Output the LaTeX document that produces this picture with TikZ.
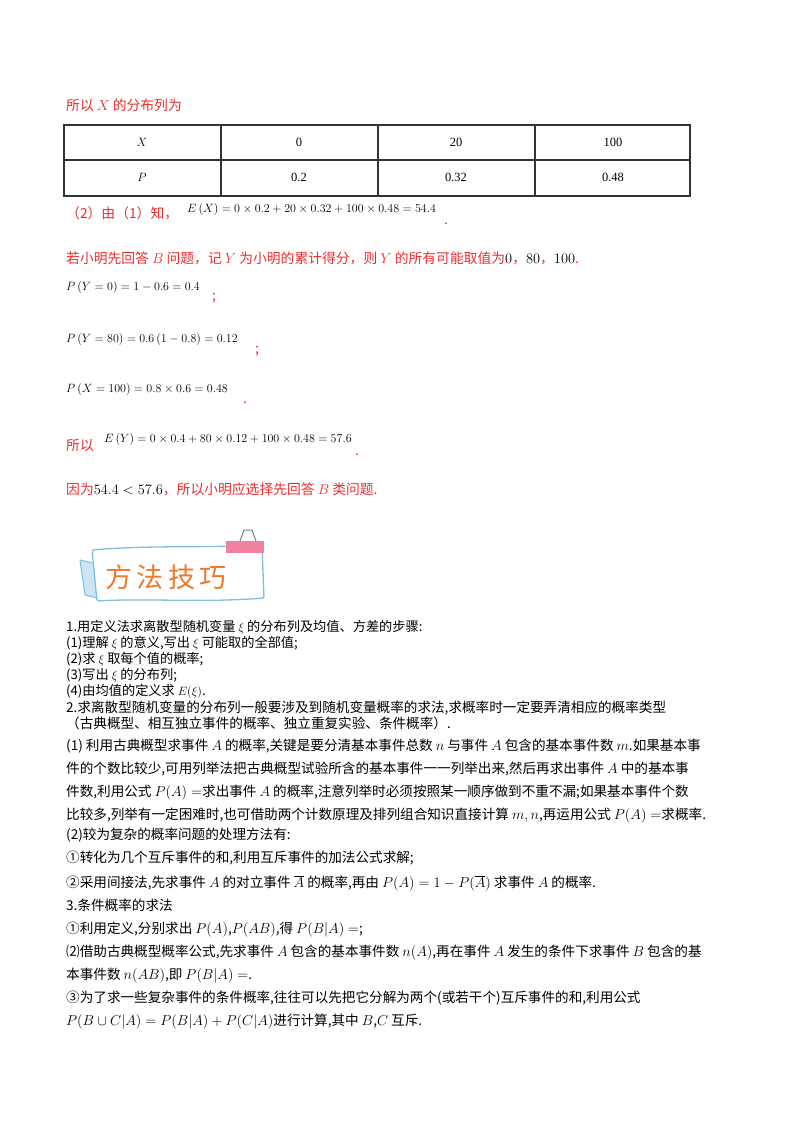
\documentclass[tikz,border=0pt]{standalone}
\usepackage{fontspec}
\setmainfont{Noto Sans CJK SC}
\newfontfamily\numfont{Liberation Serif}
\definecolor{myred}{RGB}{235,45,45}
\definecolor{bannerblue}{RGB}{130,190,225}
\definecolor{bannerorange}{RGB}{240,120,40}
\definecolor{clippink}{RGB}{240,130,160}
\begin{document}
\begin{tikzpicture}[x=1pt,y=-1pt,
  rt/.style={anchor=base west,inner sep=0,text=myred,font=\fontsize{13.8}{15}\selectfont},
  mt/.style={anchor=base west,inner sep=0,font=\fontsize{13}{15}\selectfont},
  lt/.style={anchor=base west,inner sep=0,font=\fontsize{13.2}{15}\selectfont},
  lt2/.style={anchor=base west,inner sep=0,font=\fontsize{13.6}{15}\selectfont},
  cell/.style={inner sep=0,font=\fontsize{12.5}{14}\selectfont}]
\useasboundingbox (0,0) rectangle (800,1132);
% heading
\node[rt] (h1) at (66,110) {所以 $X$ 的分布列为};
% table
\draw[line width=1.3pt,black!80] (64,125) rectangle (690,196);
\draw[line width=1.3pt,black!80] (64,160) -- (690,160);
\foreach \x in {221,378,535} \draw[line width=1.3pt,black!80] (\x,125) -- (\x,196);
\node[cell] (c1) at (142,142) {$X$};
\node[cell] (c2) at (299,142) {\numfont 0};
\node[cell] (c3) at (456,142) {\numfont 20};
\node[cell] (c4) at (613,142) {\numfont 100};
\node[cell] (d1) at (142,177) {$P$};
\node[cell] (d2) at (299,177) {\numfont 0.2};
\node[cell] (d3) at (456,177) {\numfont 0.32};
\node[cell] (d4) at (613,177) {\numfont 0.48};
% (2)
\node[rt] (l2) at (66,218) {（2）由（1）知，};
\node[mt] (f1) at (187,212) {$E\left(X\right)=0\times0.2+20\times0.32+100\times0.48=54.4$};
\node[rt] (p1) at (444,224) {.};
\node[rt] (l3) at (66,263) {若小明先回答 $B$ 问题，记 $Y$ 为小明的累计得分，则 $Y$ 的所有可能取值为\textcolor{black}{$0$}，\textcolor{black}{$80$}，\textcolor{black}{$100$}.};
\node[mt] (f2) at (66,290) {$P\left(Y=0\right)=1-0.6=0.4$};
\node[rt] (s2) at (212,300) {;};
\node[mt] (f3) at (66,342) {$P\left(Y=80\right)=0.6\left(1-0.8\right)=0.12$};
\node[rt] (s3) at (255,353) {;};
\node[mt] (f4) at (66,392) {$P\left(X=100\right)=0.8\times0.6=0.48$};
\node[rt] (s4) at (243,403) {.};
\node[rt] (l4) at (66,450) {所以};
\node[mt] (f5) at (104,442) {$E\left(Y\right)=0\times0.4+80\times0.12+100\times0.48=57.6$};
\node[rt] (s5) at (355,455) {.};
\node[rt] (l5) at (66,494) {因为\textcolor{black}{$54.4<57.6$}，所以小明应选择先回答 $B$ 类问题.};
% banner
\fill[bannerblue!40] (80,560) -- (93,563) -- (97,598) -- (85,595) -- cycle;
\draw[bannerblue,line width=1.3pt,rounded corners=2pt,fill=white] (92,550) .. controls (150,545) and (210,548) .. (262,545) -- (264,598) .. controls (200,603) and (150,598) .. (97,601) -- cycle;
\draw[bannerblue,line width=1pt] (80,560) -- (93,563);
\draw[bannerblue,line width=1pt] (85,595) -- (97,598);
\draw[bannerblue,line width=1pt] (80,560) -- (85,595);
\fill[clippink] (226,541) rectangle (264,553);
\draw[gray,line width=1pt] (240,541) -- (244,530) -- (252,530) -- (256,541);
\node[inner sep=0,text=bannerorange,font=\fontsize{27}{28}\selectfont] (title) at (166,577) {方\,法\,技\,巧};
% method text
\node[lt] (m1) at (66,631) {1.用定义法求离散型随机变量 $\xi$ 的分布列及均值、方差的步骤:};
\node[lt] (m2) at (66,647) {(1)理解 $\xi$ 的意义,写出 $\xi$ 可能取的全部值;};
\node[lt] (m3) at (66,663) {(2)求 $\xi$ 取每个值的概率;};
\node[lt] (m4) at (66,679) {(3)写出 $\xi$ 的分布列;};
\node[lt] (m5) at (66,695) {(4)由均值的定义求 $E(\xi)$.};
\node[lt2] (m6) at (66,712) {2.求离散型随机变量的分布列一般要涉及到随机变量概率的求法,求概率时一定要弄清相应的概率类型};
\node[lt2] (m7) at (66,728) {（古典概型、相互独立事件的概率、独立重复实验、条件概率）.};
\node[lt2] (m8) at (66,750) {(1)\ 利用古典概型求事件 $A$ 的概率,关键是要分清基本事件总数 $n$ 与事件 $A$ 包含的基本事件数 $m$.如果基本事};
\node[lt2] (m9) at (66,773) {件的个数比较少,可用列举法把古典概型试验所含的基本事件一一列举出来,然后再求出事件 $A$ 中的基本事};
\node[lt2] (m10) at (66,796) {件数,利用公式 $P(A)=$求出事件 $A$ 的概率,注意列举时必须按照某一顺序做到不重不漏;如果基本事件个数};
\node[lt2] (m11) at (66,819) {比较多,列举有一定困难时,也可借助两个计数原理及排列组合知识直接计算 $m,n$,再运用公式 $P(A)=$求概率.};
\node[lt2] (m12) at (66,839) {(2)较为复杂的概率问题的处理方法有:};
\node[lt2] (m13) at (66,862) {①转化为几个互斥事件的和,利用互斥事件的加法公式求解;};
\node[lt2] (m14) at (66,887) {②采用间接法,先求事件 $A$ 的对立事件 $\overline{A}$ 的概率,再由 $P(A)=1-P(\overline{A})$ 求事件 $A$ 的概率.};
\node[lt2] (m15) at (66,910) {3.条件概率的求法};
\node[lt2] (m16) at (66,933) {①利用定义,分别求出 $P(A)$,$P(AB)$,得 $P(B|A)=$;};
\node[lt2] (m17) at (66,956) {⑵借助古典概型概率公式,先求事件 $A$ 包含的基本事件数 $n(A)$,再在事件 $A$ 发生的条件下求事件 $B$ 包含的基};
\node[lt2] (m18) at (66,979) {本事件数 $n(AB)$,即 $P(B|A)=$.};
\node[lt2] (m19) at (66,1002) {③为了求一些复杂事件的条件概率,往往可以先把它分解为两个(或若干个)互斥事件的和,利用公式};
\node[lt2] (m20) at (66,1025) {$P(B\cup C|A)=P(B|A)+P(C|A)$进行计算,其中 $B$,$C$ 互斥.};
\end{tikzpicture}
\end{document}
